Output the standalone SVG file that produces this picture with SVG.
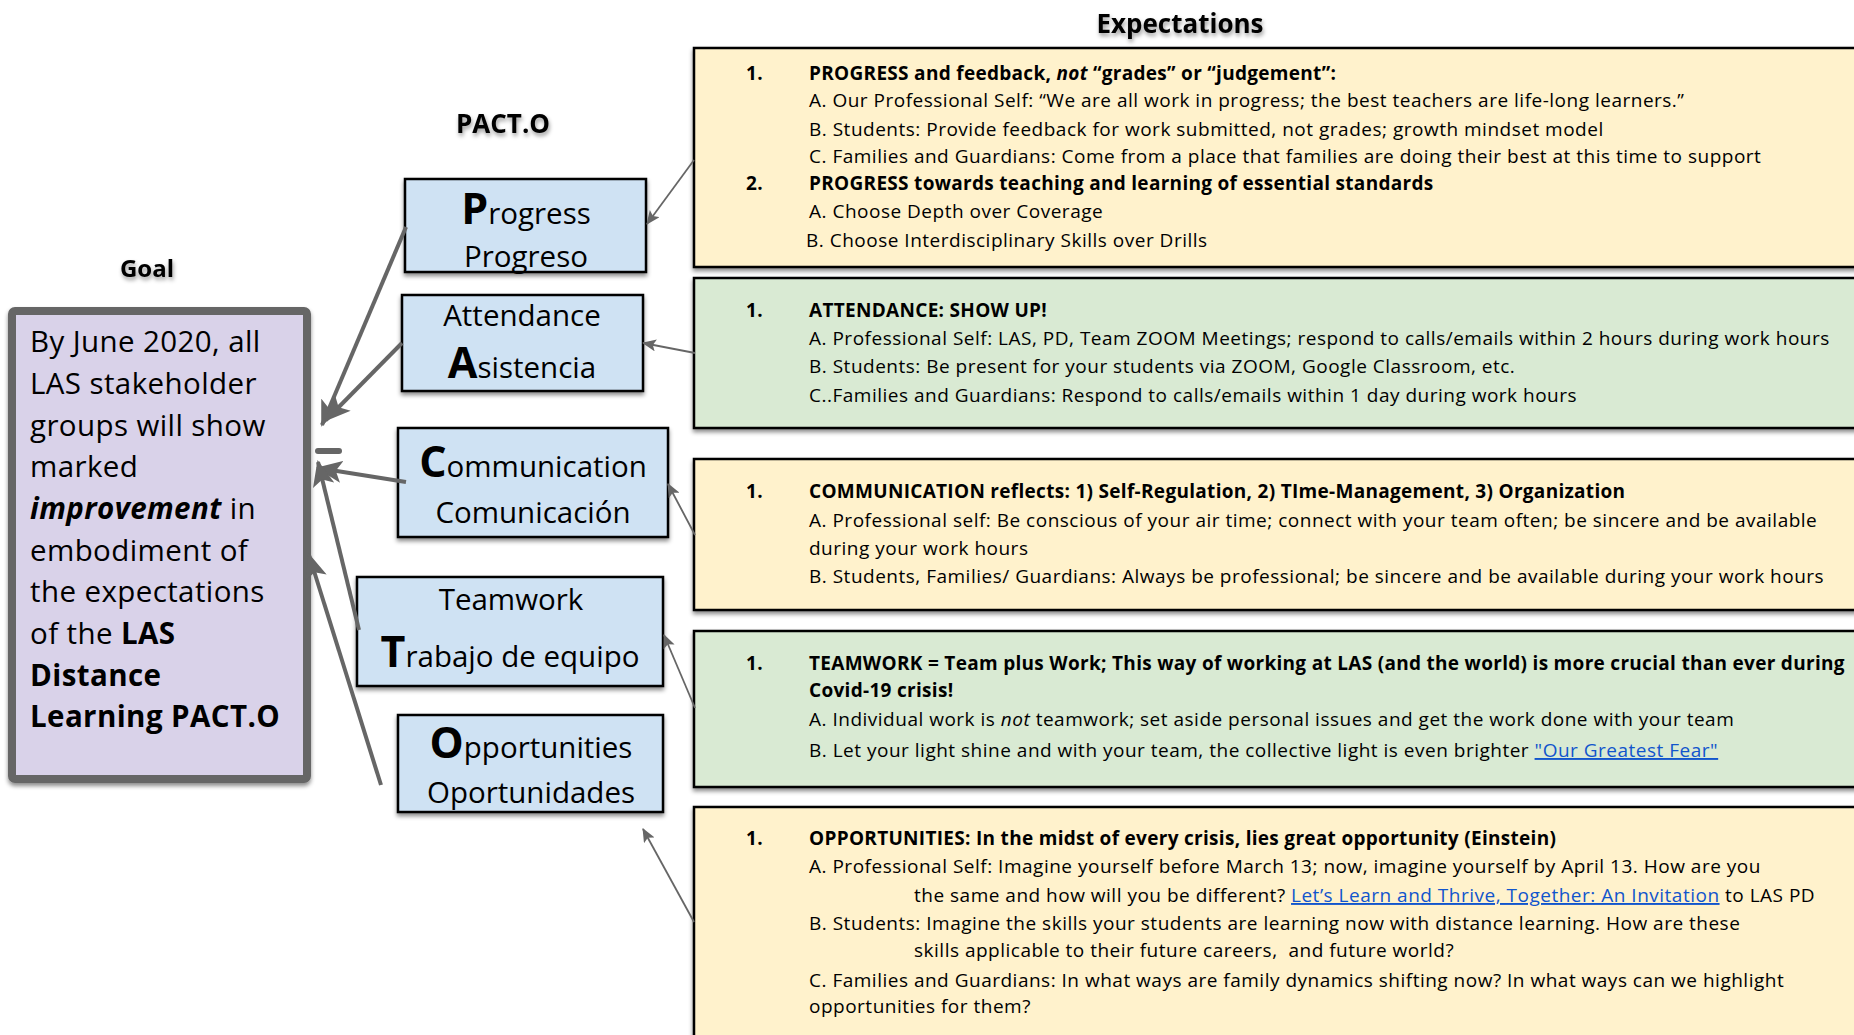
<svg xmlns="http://www.w3.org/2000/svg" width="1854" height="1035" viewBox="0 0 1854 1035">
<style>
.h{font-family:"Open Sans","Liberation Sans",sans-serif;font-weight:bold;fill:#000}
.node{fill:#cfe2f3;stroke:#000;stroke-width:2.5}
.nt{font-family:"Open Sans","Liberation Sans",sans-serif;font-size:29.5px;fill:#000;text-anchor:middle}
.big{font-weight:bold;font-size:43px}
.exp{stroke:#000;stroke-width:2.5}
.y{fill:#fff2cc}
.g{fill:#d9ead3}
.t{font-family:"Open Sans","Liberation Sans",sans-serif;font-size:19px;letter-spacing:0.5px;fill:#000}
.t.b{letter-spacing:0.3px}
.b{font-weight:bold}
.i{font-style:italic}
.lk{fill:#1155cc;text-decoration:underline}
.gt{font-family:"Open Sans","Liberation Sans",sans-serif;font-size:29.5px;letter-spacing:0.4px;fill:#000}
.thick{stroke:#666;stroke-width:4;fill:none}
.thin{stroke:#666;stroke-width:1.8;fill:none}
</style>
<defs>
<filter id="sh" x="-5%" y="-10%" width="110%" height="130%"><feDropShadow dx="0" dy="3" stdDeviation="2" flood-color="#000" flood-opacity="0.45"/></filter>
<filter id="ts" x="-10%" y="-30%" width="120%" height="180%"><feDropShadow dx="1" dy="3" stdDeviation="2" flood-color="#000" flood-opacity="0.4"/></filter>
<marker id="ah" markerUnits="userSpaceOnUse" markerWidth="26" markerHeight="22" viewBox="0 0 26 22" refX="24" refY="11" orient="auto"><path d="M0,0 L26,11 L0,22 L6,11 z" fill="#666"/></marker>
<marker id="at" markerUnits="userSpaceOnUse" markerWidth="14" markerHeight="12" viewBox="0 0 14 12" refX="13" refY="6" orient="auto"><path d="M0,0 L14,6 L0,12 L3,6 z" fill="#666"/></marker>
</defs>
<rect width="1854" height="1035" fill="#fff"/>

<g id="headings">
<text class="h" x="503" y="133" font-size="26" text-anchor="middle" filter="url(#ts)">PACT.O</text>
<text class="h" x="147" y="277" font-size="24" text-anchor="middle" filter="url(#ts)">Goal</text>
<text class="h" x="1180" y="33" font-size="26" text-anchor="middle" filter="url(#ts)">Expectations</text>
</g>

<g id="goal">
<rect x="12" y="311" width="295" height="468" rx="3" fill="#d9d2e9" stroke="#666" stroke-width="8" filter="url(#sh)"/>
<text class="gt" x="30" y="352">By June 2020, all</text>
<text class="gt" x="30" y="394">LAS stakeholder</text>
<text class="gt" x="30" y="436">groups will show</text>
<text class="gt" x="30" y="477">marked</text>
<text class="gt" x="30" y="519"><tspan class="b i">improvement</tspan> in</text>
<text class="gt" x="30" y="561">embodiment of</text>
<text class="gt" x="30" y="602">the expectations</text>
<text class="gt" x="30" y="644">of the <tspan class="b">LAS</tspan></text>
<text class="gt b" x="30" y="686">Distance</text>
<text class="gt b" x="30" y="727">Learning PACT.O</text>
</g>

<g id="node-progress">
<rect class="node" x="405" y="179" width="241" height="93" filter="url(#sh)"/>
<text class="nt" x="526" y="224"><tspan class="big">P</tspan>rogress</text>
<text class="nt" x="526" y="267">Progreso</text>
</g>
<g id="node-attendance">
<rect class="node" x="402" y="295" width="241" height="96" filter="url(#sh)"/>
<text class="nt" x="522" y="326">Attendance</text>
<text class="nt" x="522" y="378"><tspan class="big">A</tspan>sistencia</text>
</g>
<g id="node-communication">
<rect class="node" x="398" y="428" width="270" height="109" filter="url(#sh)"/>
<text class="nt" x="533" y="477"><tspan class="big">C</tspan>ommunication</text>
<text class="nt" x="533" y="523">Comunicación</text>
</g>
<g id="node-teamwork">
<rect class="node" x="357" y="577" width="306" height="109" filter="url(#sh)"/>
<text class="nt" x="511" y="610">Teamwork</text>
<text class="nt" x="510" y="667"><tspan class="big">T</tspan>rabajo de equipo</text>
</g>
<g id="node-opportunities">
<rect class="node" x="398" y="715" width="265" height="97" filter="url(#sh)"/>
<text class="nt" x="531" y="758"><tspan class="big">O</tspan>pportunities</text>
<text class="nt" x="531" y="803">Oportunidades</text>
</g>

<g id="exp-progress">
<rect class="exp y" x="694" y="48" width="1170" height="219" filter="url(#sh)"/>
<text class="t b" x="746" y="80">1.</text>
<text class="t b" x="809" y="80">PROGRESS and feedback, <tspan class="i">not</tspan> “grades” or “judgement”:</text>
<text class="t" x="809" y="107">A. Our Professional Self: “We are all work in progress; the best teachers are life-long learners.”</text>
<text class="t" x="809" y="136">B. Students: Provide feedback for work submitted, not grades; growth mindset model</text>
<text class="t" x="809" y="163">C. Families and Guardians: Come from a place that families are doing their best at this time to support</text>
<text class="t b" x="746" y="190">2.</text>
<text class="t b" x="809" y="190">PROGRESS towards teaching and learning of essential standards</text>
<text class="t" x="809" y="218">A. Choose Depth over Coverage</text>
<text class="t" x="806" y="247">B. Choose Interdisciplinary Skills over Drills</text>
</g>

<g id="exp-attendance">
<rect class="exp g" x="694" y="278" width="1170" height="150" filter="url(#sh)"/>
<text class="t b" x="746" y="317">1.</text>
<text class="t b" x="809" y="317">ATTENDANCE: SHOW UP!</text>
<text class="t" x="809" y="345">A. Professional Self: LAS, PD, Team ZOOM Meetings; respond to calls/emails within 2 hours during work hours</text>
<text class="t" x="809" y="373">B. Students: Be present for your students via ZOOM, Google Classroom, etc.</text>
<text class="t" x="809" y="402">C..Families and Guardians: Respond to calls/emails within 1 day during work hours</text>
</g>

<g id="exp-communication">
<rect class="exp y" x="694" y="459" width="1170" height="151" filter="url(#sh)"/>
<text class="t b" x="746" y="498">1.</text>
<text class="t b" x="809" y="498">COMMUNICATION reflects: 1) Self-Regulation, 2) TIme-Management, 3) Organization</text>
<text class="t" x="809" y="527">A. Professional self: Be conscious of your air time; connect with your team often; be sincere and be available</text>
<text class="t" x="809" y="555">during your work hours</text>
<text class="t" x="809" y="583">B. Students, Families/ Guardians: Always be professional; be sincere and be available during your work hours</text>
</g>

<g id="exp-teamwork">
<rect class="exp g" x="694" y="631" width="1170" height="156" filter="url(#sh)"/>
<text class="t b" x="746" y="670">1.</text>
<text class="t b" x="809" y="670">TEAMWORK = Team plus Work; This way of working at LAS (and the world) is more crucial than ever during</text>
<text class="t b" x="809" y="697">Covid-19 crisis!</text>
<text class="t" x="809" y="726">A. Individual work is <tspan class="i">not</tspan> teamwork; set aside personal issues and get the work done with your team</text>
<text class="t" x="809" y="757">B. Let your light shine and with your team, the collective light is even brighter <tspan class="lk">"Our Greatest Fear"</tspan></text>
</g>

<g id="exp-opportunities">
<rect class="exp y" x="694" y="807" width="1170" height="240" filter="url(#sh)"/>
<text class="t b" x="746" y="845">1.</text>
<text class="t b" x="809" y="845">OPPORTUNITIES: In the midst of every crisis, lies great opportunity (Einstein)</text>
<text class="t" x="809" y="873">A. Professional Self: Imagine yourself before March 13; now, imagine yourself by April 13. How are you</text>
<text class="t" x="914" y="902">the same and how will you be different? <tspan class="lk">Let’s Learn and Thrive, Together: An Invitation</tspan> to LAS PD</text>
<text class="t" x="809" y="930">B. Students: Imagine the skills your students are learning now with distance learning. How are these</text>
<text class="t" x="914" y="957" xml:space="preserve">skills applicable to their future careers,  and future world?</text>
<text class="t" x="809" y="987">C. Families and Guardians: In what ways are family dynamics shifting now? In what ways can we highlight</text>
<text class="t" x="809" y="1013">opportunities for them?</text>
</g>

<g id="connectors">
<line class="thick" x1="406" y1="227" x2="322" y2="425" marker-end="url(#ah)"/>
<line class="thick" x1="402" y1="343" x2="326" y2="420" marker-end="url(#ah)"/>
<line x1="318" y1="451" x2="339" y2="451" stroke="#666" stroke-width="6" stroke-linecap="round"/>
<line class="thick" x1="406" y1="482" x2="318" y2="468" marker-end="url(#ah)"/>
<line class="thick" x1="359" y1="630" x2="318" y2="462" marker-end="url(#ah)"/>
<line class="thick" x1="381" y1="785" x2="309" y2="555" marker-end="url(#ah)"/>
<line class="thin" x1="694" y1="160" x2="647" y2="224" marker-end="url(#at)"/>
<line class="thin" x1="695" y1="353" x2="643" y2="343" marker-end="url(#at)"/>
<line class="thin" x1="695" y1="535" x2="668" y2="484" marker-end="url(#at)"/>
<line class="thin" x1="695" y1="708" x2="664" y2="635" marker-end="url(#at)"/>
<line class="thin" x1="694" y1="922" x2="643" y2="829" marker-end="url(#at)"/>
</g>
</svg>
